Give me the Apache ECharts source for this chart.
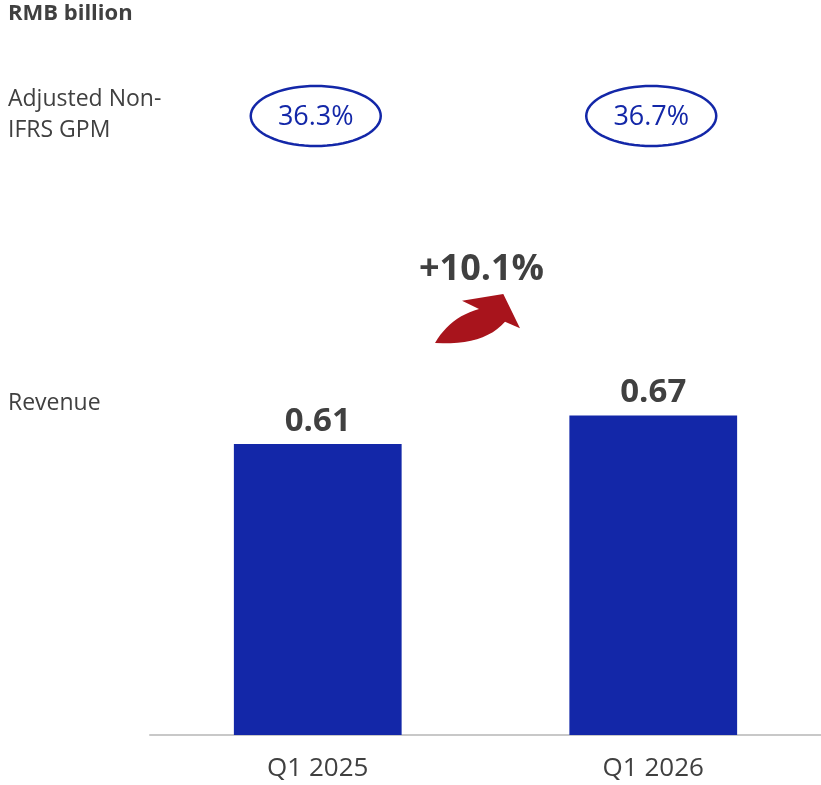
<!DOCTYPE html>
<html>
<head>
<meta charset="utf-8">
<script src="https://cdn.jsdelivr.net/npm/echarts@6/dist/echarts.min.js"></script>
<style>
  html, body { margin: 0; padding: 0; background: #fff; }
  #chart { width: 821px; height: 785px; }
</style>
</head>
<body>
<div id="chart"></div>
<script>
const categories = ['Q1 2025', 'Q1 2026'];
const revenue = [0.61, 0.67];
const gpmLabels = ['36.3%', '36.7%'];
const growthLabel = '+10.1%';

const textColor = '#404040';
const blue = '#1327a8';
const font = '"Open Sans", sans-serif';

const chart = echarts.init(document.getElementById('chart'));

const option = {
  backgroundColor: '#fff',
  animation: false,
  grid: { left: 150, right: 0, top: 258, bottom: 50 },
  xAxis: {
    type: 'category',
    data: categories,
    axisLine: { lineStyle: { color: '#c8c8c8', width: 2 } },
    axisTick: { show: false },
    axisLabel: { color: textColor, fontSize: 26, fontFamily: font, margin: 21 }
  },
  yAxis: {
    type: 'value',
    min: 0,
    max: 1,
    show: false,
    splitLine: { show: false }
  },
  series: [{
    type: 'bar',
    data: revenue,
    barWidth: '50%',
    itemStyle: { color: blue },
    label: {
      show: true,
      position: 'top',
      distance: 6,
      color: textColor,
      fontSize: 33,
      fontWeight: 'bold',
      fontFamily: font
    }
  }]
};

chart.setOption(option);

// helpers for annotation outlines
function quad(p0, c, p1, n) {
  const pts = [];
  for (let i = 1; i <= n; i++) {
    const t = i / n, u = 1 - t;
    pts.push([u * u * p0[0] + 2 * u * t * c[0] + t * t * p1[0],
              u * u * p0[1] + 2 * u * t * c[1] + t * t * p1[1]]);
  }
  return pts;
}
function ellipsePts(cx, cy, rx, ry) {
  const pts = [];
  for (let i = 0; i < 72; i++) {
    const a = i / 72 * Math.PI * 2;
    pts.push([cx + rx * Math.cos(a), cy + ry * Math.sin(a)]);
  }
  return pts;
}

const xs = categories.map(c => chart.convertToPixel({ xAxisIndex: 0 }, c));
const midX = (xs[0] + xs[1]) / 2;
const dx = midX - 485.5;

let arrow = [[435, 343]];
arrow = arrow.concat(quad([435, 343], [450, 317], [479, 309], 12));
arrow.push([462, 300.7], [503.3, 294], [520, 328.3], [505, 321.7]);
arrow = arrow.concat(quad([505, 321.7], [484, 346], [435, 343], 12));
arrow = arrow.map(p => [p[0] + dx, p[1]]);

const graphics = [
  {
    type: 'text', x: 8, y: 3,
    style: { text: 'RMB billion', fill: textColor, font: 'bold 22px ' + font }
  },
  {
    type: 'text', x: 8, y: 84,
    style: { text: 'Adjusted Non-\nIFRS GPM', fill: textColor, font: '23px ' + font, lineHeight: 31 }
  },
  {
    type: 'text', x: 8, y: 392,
    style: { text: 'Revenue', fill: textColor, font: '23px ' + font }
  },
  {
    type: 'text', x: midX - 4, y: 270,
    style: { text: growthLabel, fill: textColor, font: 'bold 36px ' + font, align: 'center', verticalAlign: 'middle' }
  },
  {
    type: 'polygon',
    shape: { points: arrow },
    style: { fill: '#a8141c' }
  }
];

xs.forEach((x, i) => {
  graphics.push({
    type: 'polygon',
    shape: { points: ellipsePts(x - 2, 116, 65, 30) },
    style: { fill: '#fff', stroke: blue, lineWidth: 2.5 }
  });
  graphics.push({
    type: 'text', x: x - 2, y: 117,
    style: { text: gpmLabels[i], fill: blue, font: '27px ' + font, align: 'center', verticalAlign: 'middle' }
  });
});

chart.setOption({ graphic: graphics });
</script>
</body>
</html>
